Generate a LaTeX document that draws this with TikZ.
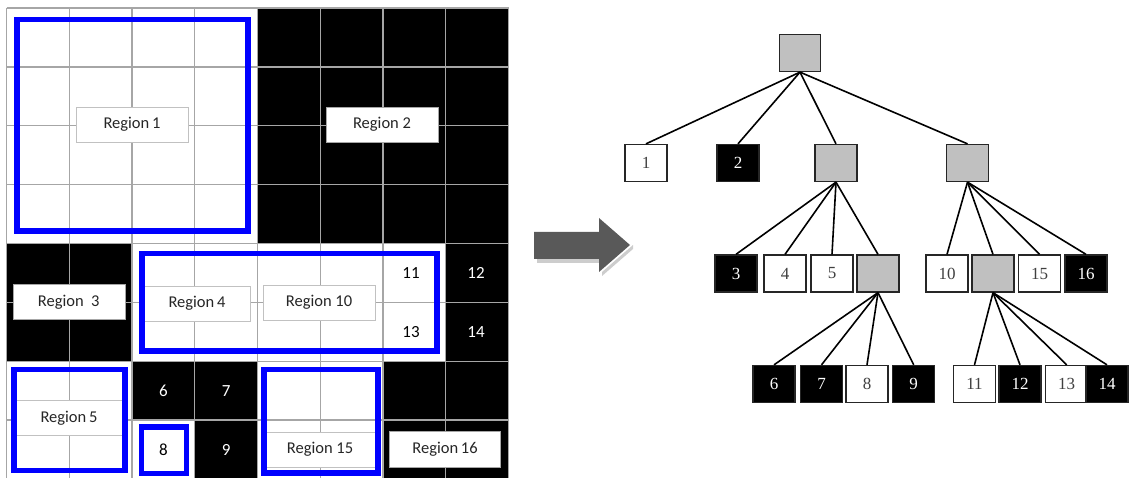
\documentclass[tikz,border=0pt]{standalone}
\usepackage{fontspec}
\newfontfamily\gridfont{Carlito}
\newfontfamily\treefont{Liberation Serif}
\definecolor{regionblue}{RGB}{0,0,255}
\definecolor{gridgray}{RGB}{166,166,166}
\definecolor{arrowgray}{RGB}{89,89,89}
\definecolor{shadowgray}{RGB}{205,205,205}
\definecolor{nodegray}{RGB}{192,192,192}

\begin{document}
\begin{tikzpicture}[x=1pt,y=-1pt,
gridline/.style={draw=gridgray, line width=1.3pt},
regionbox/.style={draw=regionblue, line width=5.5pt},
regiontag/.style={
draw=gridgray!70,
fill=white,
rectangle,
minimum width=112pt,
minimum height=35pt,
inner sep=0pt,
text=black!85,
font=\gridfont\fontsize{16.5}{18}\selectfont},
cellnum/.style={font=\gridfont\fontsize{17}{19}\selectfont},
leaf/.style={
draw=black!85,
line width=1.3pt,
rectangle,
minimum width=42pt,
minimum height=37pt,
inner sep=0pt,
font=\treefont\fontsize{17}{19}\selectfont},
wleaf/.style={leaf, fill=white, text=black!75},
bleaf/.style={leaf, fill=black, text=white},
gleaf/.style={leaf, fill=nodegray},
edge/.style={line width=1.6pt}
]
\useasboundingbox (0,0) rectangle (1130,478);

% grid
\begin{scope}[shift={(6.5,8)}, x=62.75pt, y=-58.875pt]
\fill[white] (0,0) rectangle (8,8);
\foreach \c/\r/\w/\h in {4/0/4/4, 0/4/2/2, 7/4/1/2, 2/6/2/1, 3/7/1/1, 6/6/2/2}
  \fill[black] (\c,\r) rectangle ++(\w,\h);
\foreach \i in {0,...,8}{
  \draw[gridline] (\i,0) -- (\i,8);
  \draw[gridline] (0,\i) -- (8,\i);
}
\end{scope}

% region labels
\draw (132,124.5)node[regiontag](r1){Region\,1};
\draw (382,124.5)node[regiontag, draw=gridgray](r2){Region 2};
\draw (68.7,302)node[regiontag, draw=gridgray](r3){Region\ \ 3};
\draw (197,303.7)node[regiontag, minimum width=106pt](r4){Region\,4};
\draw (319,302.5)node[regiontag](r10){Region 10};
\draw (69,418)node[regiontag](r5){Region\,5};
\draw (320,449.5)node[regiontag](r15){Region 15};
\draw (445,449)node[regiontag, draw=gridgray, minimum width=111pt, minimum height=36.5pt](r16){Region\,16};

% single cells
\draw (163.4,390.7)node[cellnum, text=white](c6){6};
\draw (226.1,390.7)node[cellnum, text=white](c7){7};
\draw (163.4,449.6)node[cellnum](c8){8};
\draw (226.1,449.6)node[cellnum, text=white](c9){9};
\draw (411,272.9)node[cellnum](c11){11};
\draw (476,272.9)node[cellnum, text=white](c12){12};
\draw (411,331.8)node[cellnum](c13){13};
\draw (476,331.8)node[cellnum, text=white](c14){14};

% blue regions
\draw[regionbox] (17,19.7) rectangle (248,231);
\draw[regionbox] (142,253.7) rectangle (437,351);
\draw[regionbox] (14,369.7) rectangle (125,470.5);
\draw[regionbox] (141.3,427) rectangle (186.7,473.7);
\draw[regionbox] (264,369.7) rectangle (378,473);

% arrow
\fill[shadowgray] (537,259) rectangle (602,263);
\fill[shadowgray] (602,272) -- (633,245) -- (633,249) -- (602,276) -- cycle;
\fill[arrowgray] (534,232) -- (599,232) -- (599,218) -- (630,245) -- (599,272) -- (599,259) -- (534,259) -- cycle;

% tree
\draw (800,53)node[gleaf, minimum width=41pt](root){};
\draw (646,163)node[wleaf](l1){1};
\draw (738,163)node[bleaf](l2){2};
\draw (836,163)node[gleaf](g1){};
\draw (967.5,163)node[gleaf](g2){};
\draw (736,273.5)node[bleaf](l3){3};
\draw (785,273.5)node[wleaf](l4){4};
\draw (832,273.5)node[wleaf](l5){5};
\draw (878,273.5)node[gleaf](g3){};
\draw (947,273.5)node[wleaf](l10){10};
\draw (993,273.5)node[gleaf](g4){};
\draw (1039.5,273.5)node[wleaf](l15){15};
\draw (1086,273.5)node[bleaf](l16){16};
\draw (774,384)node[bleaf](l6){6};
\draw (821.5,384)node[bleaf](l7){7};
\draw (867,384)node[wleaf](l8){8};
\draw (913.7,384)node[bleaf](l9){9};
\draw (974.5,384)node[wleaf](l11){11};
\draw (1020,384)node[bleaf](l12){12};
\draw (1066.7,384)node[wleaf](l13){13};
\draw (1107,384)node[bleaf](l14){14};

\foreach \p/\c in {root/l1, root/l2, root/g1, root/g2, g1/l3, g1/l4, g1/l5, g1/g3,
  g2/l10, g2/g4, g2/l15, g2/l16, g3/l6, g3/l7, g3/l8, g3/l9,
  g4/l11, g4/l12, g4/l13, g4/l14}
  \draw[edge] (\p.south) -- (\c.north);

\end{tikzpicture}
\end{document}
